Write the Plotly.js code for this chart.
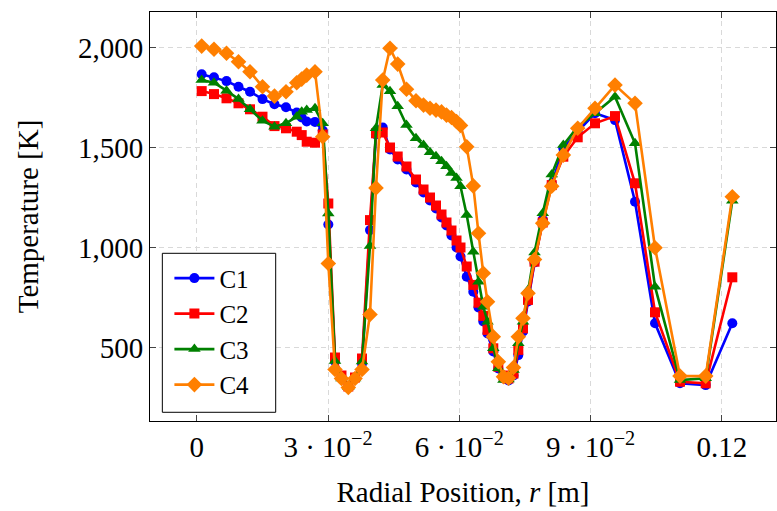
<!DOCTYPE html>
<html>
<head>
<meta charset="utf-8">
<script src="https://cdn.plot.ly/plotly-3.0.1.min.js"></script>
<style>html,body{margin:0;padding:0;background:#fff;}#chart{width:777px;height:511px;}</style>
</head>
<body>
<div id="chart"></div>
<script>
// Radial positions [m]
const radius = [0.00114, 0.00395, 0.00681, 0.00955, 0.01218, 0.01503, 0.01777, 0.02040, 0.02285, 0.02399,
  0.02513, 0.02703, 0.02879, 0.03007, 0.03160, 0.03308, 0.03464, 0.03617, 0.03777, 0.03959,
  0.04096, 0.04250, 0.04416, 0.04592, 0.04793, 0.05010, 0.05182, 0.05330, 0.05467, 0.05593,
  0.05707, 0.05821, 0.05936, 0.06027, 0.06169, 0.06319, 0.06438, 0.06548, 0.06644, 0.06776,
  0.06891, 0.07009, 0.07124, 0.07238, 0.07348, 0.07455, 0.07569, 0.07718, 0.07905, 0.08111,
  0.08376, 0.08705, 0.09100, 0.09557, 0.10014, 0.10471, 0.11042, 0.11629, 0.12237];

// Temperature [K]
const tempC1 = [1866, 1851, 1832, 1804, 1779, 1742, 1716, 1701, 1675, 1650,
  1630, 1628, 1585, 1115, 430, 350, 302, 345, 420, 1087,
  1565, 1600, 1490, 1440, 1390, 1325, 1275, 1235, 1195, 1150,
  1110, 1060, 1000, 955, 854, 779, 700, 630, 570, 480,
  395, 345, 335, 360, 462, 580, 730, 925, 1140, 1320,
  1496, 1580, 1671, 1637, 1229, 621, 321, 312, 621];

const tempC2 = [1782, 1767, 1746, 1721, 1691, 1654, 1607, 1596, 1579, 1562,
  1529, 1524, 1565, 1220, 450, 360, 305, 350, 445, 1137,
  1571, 1575, 1500, 1455, 1405, 1340, 1290, 1250, 1210, 1165,
  1125, 1085, 1035, 1000, 905, 813, 724, 658, 588, 496,
  404, 360, 345, 370, 488, 596, 738, 929, 1125, 1312,
  1454, 1551, 1621, 1657, 1321, 676, 329, 321, 851];

const tempC3 = [1837, 1824, 1784, 1742, 1691, 1634, 1604, 1621, 1654, 1679,
  1688, 1696, 1621, 1170, 432, 345, 303, 345, 430, 1007,
  1596, 1812, 1781, 1706, 1612, 1546, 1512, 1476, 1456, 1431,
  1406, 1373, 1348, 1306, 1163, 979, 829, 704, 629, 496,
  396, 337, 340, 387, 521, 629, 787, 975, 1171, 1365,
  1512, 1604, 1671, 1754, 1521, 804, 337, 346, 1234];

const tempC4 = [2007, 1991, 1971, 1929, 1879, 1804, 1757, 1779, 1824, 1842,
  1862, 1879, 1554, 920, 390, 345, 300, 345, 390, 665,
  1298, 1837, 1996, 1917, 1791, 1734, 1712, 1696, 1687, 1678,
  1662, 1650, 1630, 1610, 1504, 1308, 1071, 871, 729, 554,
  429, 354, 346, 400, 554, 646, 771, 940, 1121, 1306,
  1462, 1596, 1696, 1812, 1721, 999, 357, 357, 1254];

const seriesNames = ['C1', 'C2', 'C3', 'C4'];
const xTickVals = [0, 0.03, 0.06, 0.09, 0.12];
const xTickText = ['0', '3 · 10<sup>−2</sup>', '6 · 10<sup>−2</sup>', '9 · 10<sup>−2</sup>', '0.12'];
const yTickVals = [500, 1000, 1500, 2000];
const yTickText = ['500', '1,000', '1,500', '2,000'];

const FONT = 'Liberation Serif, DejaVu Serif, serif';
const colors = ['#0000ff', '#ff0000', '#008000', '#ff7f00'];
const symbols = ['circle', 'square', 'triangle-up', 'diamond'];
const sizes = [10, 10, 11, 12];
const allTemps = [tempC1, tempC2, tempC3, tempC4];

const traces = allTemps.map((t, i) => ({
  x: radius,
  y: t,
  name: seriesNames[i],
  type: 'scatter',
  mode: 'lines+markers',
  line: {color: colors[i], width: 2.6},
  marker: {color: colors[i], symbol: symbols[i], size: sizes[i], line: {width: 0}}
}));

const gridStyle = {showgrid: true, gridcolor: '#d9d9d9', griddash: '5px,4px', gridwidth: 1};

const layout = {
  width: 777, height: 511,
  margin: {l: 150, r: 1, t: 12, b: 90},
  paper_bgcolor: '#fff', plot_bgcolor: '#fff',
  font: {family: FONT, size: 29, color: '#000'},
  showlegend: true,
  legend: {x: 0.031, y: 0.405, xanchor: 'left', yanchor: 'top', borderwidth: 0,
           bgcolor: 'rgba(0,0,0,0)', font: {family: FONT, size: 25}, itemwidth: 40, tracegroupgap: 0},
  shapes: [{
    type: 'rect', xref: 'paper', yref: 'paper', layer: 'above',
    x0: 0.0197, x1: 0.2008, y0: 0.0213, y1: 0.410,
    line: {color: '#000', width: 1}, fillcolor: '#fff'
  }],
  xaxis: Object.assign({
    range: [-0.01067, 0.13235], tickmode: 'array', tickvals: xTickVals, ticktext: xTickText,
    ticks: 'inside', ticklen: 6, tickcolor: '#444', showline: true, mirror: 'ticks', linecolor: '#000', linewidth: 1,
    zeroline: false, automargin: false,
    title: {text: 'Radial Position, <i>r</i> [m]', font: {family: FONT, size: 29}, standoff: 19}
  }, gridStyle),
  yaxis: Object.assign({
    range: [132.5, 2177.5], tickmode: 'array', tickvals: yTickVals, ticktext: yTickText,
    ticks: 'inside', ticklen: 6, tickcolor: '#444', showline: true, mirror: 'ticks', linecolor: '#000', linewidth: 1,
    zeroline: false, automargin: false,
    title: {text: 'Temperature [K]', font: {family: FONT, size: 29}, standoff: 30}
  }, gridStyle)
};

Plotly.newPlot('chart', traces, layout, {staticPlot: true, displayModeBar: false});
</script>
</body>
</html>
